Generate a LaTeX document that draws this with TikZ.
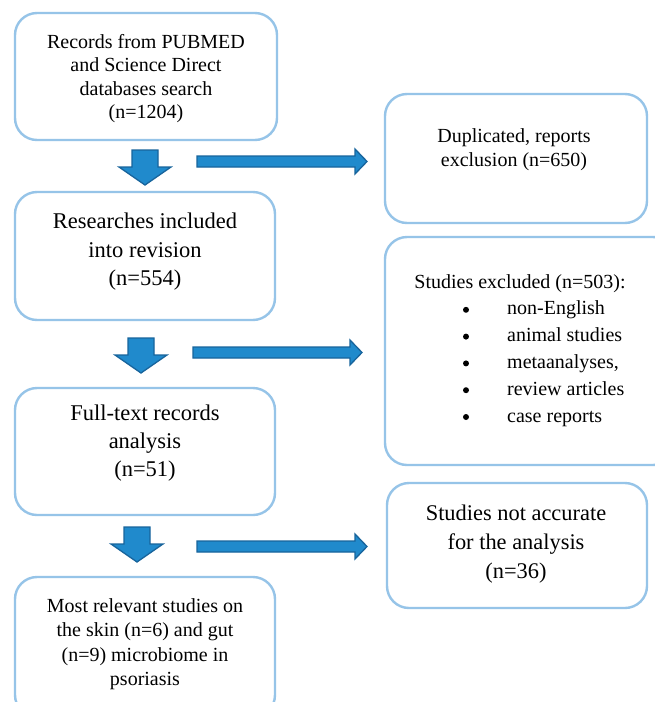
\documentclass[tikz,border=0pt]{standalone}
\usepackage{fontspec}
\setmainfont{Liberation Serif}
\definecolor{boxline}{RGB}{150,196,232}
\definecolor{arrfill}{RGB}{32,138,204}
\definecolor{arrline}{RGB}{24,100,156}
\tikzset{
  box/.style={draw=boxline, line width=2.4pt, rounded corners=22pt, fill=white, inner sep=0pt},
  lbl/.style={align=center, inner sep=0pt, text=black},
  dotmark/.style={circle, fill=black, inner sep=0pt, minimum size=6pt},
  blockarr/.style={draw=arrline, fill=arrfill, line width=1.3pt, line join=miter},
}
\newcommand\downarr[2]{% center x, top y
  \draw[blockarr] (#1-13,#2) -- (#1+13,#2) -- (#1+13,#2+17) -- (#1+26,#2+17) -- (#1,#2+35) -- (#1-26,#2+17) -- (#1-13,#2+17) -- cycle;}
\newcommand\rightarr[3]{% x start, x tip, center y
  \draw[blockarr] (#1,#3-5.5) -- (#2-12,#3-5.5) -- (#2-12,#3-12.5) -- (#2,#3) -- (#2-12,#3+12.5) -- (#2-12,#3+5.5) -- (#1,#3+5.5) -- cycle;}
\begin{document}
\begin{tikzpicture}[x=1pt,y=-1pt]
\useasboundingbox (0,0) rectangle (655,702);
\fill[white] (0,0) rectangle (655,702);
\clip (0,0) rectangle (655,702);
% left column boxes
\node[box, minimum width=262pt, minimum height=127pt] (b1) at (146,76.5) {};
\node[box, minimum width=260pt, minimum height=128pt] (b2) at (145,256) {};
\node[box, minimum width=260pt, minimum height=127pt] (b3) at (145,451.5) {};
\node[box, minimum width=260pt, minimum height=140pt] (b4) at (145,647) {};
% right column boxes
\node[box, minimum width=262pt, minimum height=129pt] (r1) at (516,158.5) {};
\node[box, minimum width=290pt, minimum height=228pt] (r2) at (530,351) {};
\node[box, minimum width=260pt, minimum height=125pt] (r3) at (517,545.5) {};
% texts
\node[lbl, font=\fontsize{20}{23.5}\selectfont] (t1) at (146,78.5) {Records from PUBMED\\and Science Direct\\databases search\\(n=1204)};
\node[lbl, font=\fontsize{22.5}{28.5}\selectfont] (t2) at (145,252) {Researches included\\into revision\\(n=554)};
\node[lbl, font=\fontsize{22.5}{28}\selectfont] (t3) at (145,443.5) {Full-text records\\analysis\\(n=51)};
\node[lbl, font=\fontsize{20}{24.5}\selectfont] (t4) at (145,644) {Most relevant studies on\\the skin (n=6) and gut\\(n=9) microbiome in\\psoriasis};
\node[lbl, font=\fontsize{20}{24.5}\selectfont] (tr1) at (514,149.5) {Duplicated, reports\\exclusion (n=650)};
\node[lbl, font=\fontsize{20}{24}\selectfont, anchor=base] (tr2) at (520,288) {Studies excluded (n=503):};
\foreach \i/\t in {1/non-English,2/animal studies,3/metaanalyses\rlap{,},4/review articles,5/case reports}{
  \node[lbl, font=\fontsize{20}{24}\selectfont, anchor=base west] (it\i) at (507,288+26.8*\i) {\t};
  \node[dotmark] (bu\i) at (466,283+26.8*\i) {};
}
\node[lbl, font=\fontsize{22.4}{29}\selectfont] (tr3) at (516,544) {Studies not accurate\\for the analysis\\(n=36)};
% block arrows
\downarr{145}{150}
\downarr{141}{338}
\downarr{137}{527}
\rightarr{197}{367}{161.5}
\rightarr{193}{362}{352.5}
\rightarr{197}{367}{546.5}
\end{tikzpicture}
\end{document}
